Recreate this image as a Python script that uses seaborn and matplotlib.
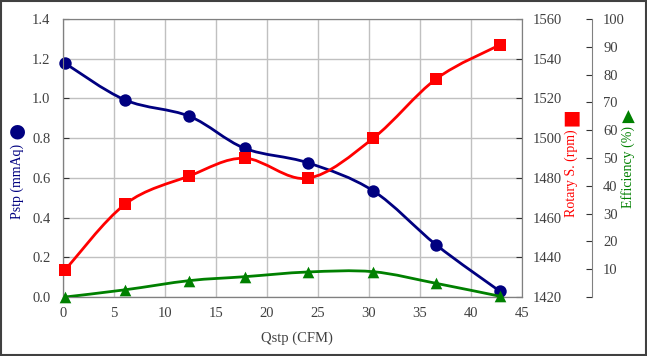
import numpy as np
import seaborn as sns
import matplotlib.pyplot as plt
from matplotlib.path import Path
from matplotlib.patches import PathPatch, Rectangle

qstp = [0.2, 6.1, 12.4, 17.8, 24.0, 30.4, 36.6, 42.8]
pstp = [1.177, 0.992, 0.910, 0.749, 0.676, 0.535, 0.262, 0.030]
rotary = [1433.6, 1466.8, 1481.0, 1489.9, 1479.8, 1499.9, 1529.9, 1546.9]
efficiency = [0.0, 2.6, 5.9, 7.3, 9.0, 9.1, 4.9, 0.3]

x_ticks = [0, 5, 10, 15, 20, 25, 30, 35, 40, 45]
p_ticks = [0.0, 0.2, 0.4, 0.6, 0.8, 1.0, 1.2, 1.4]
r_ticks = [1420, 1440, 1460, 1480, 1500, 1520, 1540, 1560]
e_ticks = [0, 10, 20, 30, 40, 50, 60, 70, 80, 90, 100]

NAVY = '#000080'
RED = '#ff0000'
GREEN = '#008000'
TXT = '#404040'


def smooth_path(xs, ys):
    # Excel style smoothed line: cubic bezier through each point
    pts = np.column_stack([xs, ys])
    ext = np.vstack([pts[0], pts, pts[-1]])
    verts = [pts[0]]
    codes = [Path.MOVETO]
    for i in range(len(pts) - 1):
        p0, p1, p2, p3 = ext[i], ext[i + 1], ext[i + 2], ext[i + 3]
        verts += [p1 + (p2 - p0) / 6, p2 - (p3 - p1) / 6, p2]
        codes += [Path.CURVE4] * 3
    return Path(verts, codes)


sns.set_style("white")
plt.rcParams['font.family'] = ['Liberation Serif', 'DejaVu Sans']
plt.rcParams['font.size'] = 10.5

fig = plt.figure(figsize=(6.47, 3.56), dpi=100)
ax = fig.add_axes([0.0974, 0.1657, 0.7094, 0.7809])
ax2 = ax.twinx()
ax3 = ax.twinx()

series = [
    (ax, pstp, NAVY, 'o', 80),
    (ax2, rotary, RED, 's', 80),
    (ax3, efficiency, GREEN, '^', 70),
]
for a, vals, col, mk, sz in series:
    a.add_patch(PathPatch(smooth_path(qstp, vals), facecolor='none',
                          edgecolor=col, lw=2, zorder=3))
    sns.scatterplot(x=qstp, y=vals, ax=a, color=col, marker=mk, s=sz,
                    edgecolor=col, linewidth=0, zorder=4, clip_on=False)
    a.set_xlabel('')
    a.set_ylabel('')

ax.set_xlim(0, 45)
ax.set_ylim(0, 1.4)
ax.set_xticks(x_ticks)
ax.set_yticks(p_ticks)
ax.set_yticklabels([f'{v:.1f}' for v in p_ticks])
ax.grid(True, color='#c0c0c0', lw=1)
ax.tick_params(axis='y', direction='in', length=4, pad=9, colors='#333333', labelcolor=TXT)
ax.tick_params(axis='x', direction='in', length=4, pad=7, colors='#333333', labelcolor=TXT)

ax2.set_ylim(1420, 1560)
ax2.set_yticks(r_ticks)
ax2.tick_params(direction='in', length=4, pad=8, colors='#333333', labelcolor=TXT)

ax3.set_ylim(0, 100)
ax3.set_yticks(e_ticks)
ax3.set_yticklabels([''] + [str(v) for v in e_ticks[1:]])
ax3.spines['right'].set_position(('axes', 1.1525))
ax3.spines['right'].set_color('#808080')
ax3.tick_params(direction='in', length=4, pad=8, colors='#333333', labelcolor=TXT)
for s in ['left', 'top', 'bottom']:
    ax3.spines[s].set_visible(False)

for a in (ax, ax2):
    for s in a.spines.values():
        s.set_color('#808080')
ax.spines['left'].set_color('#333333')
ax.spines['bottom'].set_color('#333333')

# axis titles with their legend symbols
fig.text(0.4586, 0.0506, 'Qstp (CFM)', color=TXT, fontsize=10.5, ha='center', va='center')
fig.text(0.0263, 0.4916, 'Pstp (mmAq)', color=NAVY, fontsize=10, rotation=90,
         ha='center', va='center')
fig.text(0.0263, 0.633, '\u25cf', color=NAVY, fontsize=14, family='DejaVu Sans',
         ha='center', va='center')
fig.text(0.8836, 0.5126, 'Rotary S. (rpm)', color=RED, fontsize=10, rotation=90,
         ha='center', va='center')
fig.text(0.8836, 0.6685, '\u25a0', color=RED, fontsize=14, family='DejaVu Sans',
         ha='center', va='center')
fig.text(0.9706, 0.5323, 'Efficiency (%)', color=GREEN, fontsize=10, rotation=90,
         ha='center', va='center')
fig.text(0.9706, 0.673, '\u25b2', color=GREEN, fontsize=12, family='DejaVu Sans',
         ha='center', va='center')

fig.patches.append(Rectangle((0.002, 0.003), 0.996, 0.994, transform=fig.transFigure,
                             fill=False, edgecolor='#404040', lw=1.5))

fig.savefig('out.png', dpi=100)
